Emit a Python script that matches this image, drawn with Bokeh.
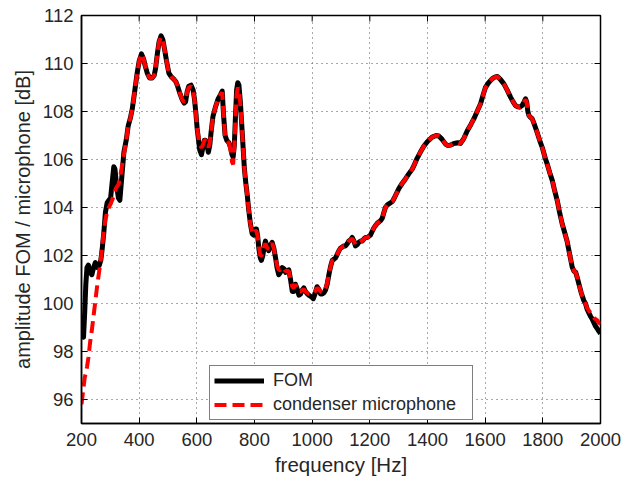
from bokeh.plotting import figure
from bokeh.models import FixedTicker, Legend, LegendItem, Range1d, ColumnDataSource
from bokeh.embed import file_html
from bokeh.resources import INLINE

freq = [200, 204, 207, 211, 215, 219, 224, 230, 236, 242, 248, 255, 262, 267, 272, 277, 283, 289, 295, 301,
        306, 312, 316, 322, 328, 333, 340, 347, 355, 362, 369, 376, 384, 393, 400, 408, 415, 421, 428, 436,
        445, 452, 457, 463, 469, 476, 482, 488, 495, 503, 511, 520, 527, 532, 540, 549, 556, 561, 566, 572,
        580, 587, 592, 597, 601, 606, 610, 616, 621, 626, 630, 635, 640, 645, 650, 656, 665, 673, 682, 688,
        693, 698, 704, 711, 717, 722, 726, 730, 734, 738, 742, 746, 751, 756, 761, 765, 770, 775, 780, 786,
        792, 797, 803, 807, 811, 815, 820, 824, 829, 834, 838, 843, 849, 855, 861, 867, 873, 878, 884, 890,
        896, 902, 908, 913, 919, 925, 931, 936, 942, 948, 954, 960, 965, 971, 977, 983, 988, 994, 1000, 1004,
        1010, 1017, 1023, 1029, 1035, 1041, 1046, 1052, 1058, 1064, 1070, 1076, 1081, 1087, 1093, 1098, 1104, 1110, 1116, 1122,
        1127, 1133, 1139, 1145, 1150, 1156, 1162, 1168, 1174, 1180, 1185, 1191, 1197, 1202, 1208, 1214, 1220, 1226, 1232, 1237,
        1243, 1249, 1254, 1260, 1266, 1272, 1278, 1283, 1289, 1295, 1301, 1312, 1324, 1335, 1347, 1355, 1364, 1375, 1387, 1400,
        1416, 1430, 1439, 1450, 1462, 1470, 1480, 1490, 1497, 1505, 1514, 1525, 1538, 1550, 1561, 1572, 1584, 1593, 1601, 1612,
        1624, 1633, 1642, 1652, 1665, 1676, 1688, 1697, 1705, 1713, 1720, 1728, 1735, 1740, 1744, 1748, 1752, 1758, 1763, 1771,
        1780, 1789, 1798, 1809, 1815, 1824, 1833, 1841, 1850, 1858, 1867, 1876, 1884, 1893, 1902, 1908, 1914, 1920, 1925, 1933,
        1942, 1948, 1954, 1960, 1966, 1971, 1977, 1983, 1989, 1994, 2000]

fom = [99.2, 98.7, 98.6, 99.6, 100.8, 101.5, 101.6, 101.3, 101.2, 101.5, 101.7, 101.5, 101.6, 101.8, 102.3, 102.9, 103.8, 104.2, 104.3, 104.4,
       105.0, 105.7, 105.6, 104.9, 104.4, 104.3, 105.3, 106.3, 106.8, 107.4, 107.7, 108.1, 108.8, 109.6, 110.1, 110.4, 110.2, 109.9, 109.6, 109.4,
       109.4, 109.5, 109.8, 110.4, 110.9, 111.15, 111.0, 110.6, 110.1, 109.6, 109.45, 109.35, 109.25, 109.1, 108.8, 108.5, 108.35, 108.4, 108.8, 109.05,
       109.1, 108.9, 108.5, 107.9, 107.3, 106.8, 106.4, 106.2, 106.5, 106.8, 106.8, 106.6, 106.3, 106.6, 107.2, 107.8, 108.2, 108.5, 108.7, 108.85,
       107.8, 107.0, 106.8, 106.7, 106.5, 106.2, 106.1, 106.6, 107.8, 108.9, 109.2, 109.1, 108.4, 107.4, 106.4, 105.6, 105.0, 104.5, 103.9, 103.3,
       102.9, 102.85, 103.1, 103.1, 102.8, 102.3, 101.9, 101.8, 102.0, 102.4, 102.6, 102.4, 102.2, 102.4, 102.55, 102.3, 101.9, 101.5, 101.2, 101.3,
       101.5, 101.45, 101.3, 101.35, 101.4, 101.0, 100.5, 100.5, 100.8, 100.6, 100.35, 100.4, 100.55, 100.65, 100.5, 100.4, 100.35, 100.3, 100.25, 100.2,
       100.4, 100.7, 100.6, 100.4, 100.4, 100.45, 100.55, 100.8, 101.2, 101.55, 101.8, 101.85, 101.9, 102.05, 102.2, 102.3, 102.35, 102.4, 102.4, 102.5,
       102.6, 102.65, 102.75, 102.6, 102.4, 102.45, 102.55, 102.6, 102.6, 102.7, 102.75, 102.75, 102.8, 102.85, 103.0, 103.15, 103.25, 103.35, 103.4, 103.45,
       103.55, 103.8, 104.0, 104.1, 104.15, 104.2, 104.25, 104.35, 104.5, 104.65, 104.8, 105.0, 105.2, 105.4, 105.6, 105.8, 106.05, 106.3, 106.55, 106.75,
       106.93, 107.0, 106.98, 106.85, 106.65, 106.58, 106.6, 106.66, 106.68, 106.7, 106.67, 106.85, 107.2, 107.45, 107.7, 108.0, 108.32, 108.7, 109.0, 109.2,
       109.36, 109.43, 109.46, 109.35, 109.15, 108.9, 108.6, 108.4, 108.25, 108.2, 108.18, 108.25, 108.4, 108.53, 108.4, 108.0, 107.83, 107.75, 107.7, 107.45,
       107.14, 106.8, 106.5, 106.03, 105.82, 105.45, 105.12, 104.7, 104.29, 103.8, 103.32, 102.95, 102.6, 102.05, 101.51, 101.35, 101.3, 101.05, 100.82, 100.45,
       100.13, 100.0, 99.75, 99.6, 99.45, 99.36, 99.2, 99.05, 98.95, 98.85, 98.75]

condenser = [95.8, 96.2, 96.5, 96.9, 97.1, 97.35, 97.75, 98.4, 98.9, 99.5, 100.1, 100.8, 101.4, 101.85, 102.4, 103.0, 103.5, 103.8, 104.0, 104.15,
             104.3, 104.5, 104.7, 104.85, 104.95, 105.2, 105.7, 106.2, 106.8, 107.4, 107.7, 108.1, 108.8, 109.6, 110.1, 110.4, 110.2, 109.9, 109.6, 109.4,
             109.4, 109.5, 109.8, 110.4, 110.9, 111.1, 111.0, 110.6, 110.1, 109.6, 109.45, 109.35, 109.25, 109.1, 108.8, 108.5, 108.4, 108.45, 108.8, 109.0,
             109.05, 108.9, 108.5, 107.9, 107.3, 106.9, 106.6, 106.5, 106.6, 106.8, 106.8, 106.65, 106.5, 106.7, 107.2, 107.8, 108.2, 108.5, 108.7, 108.8,
             107.8, 107.0, 106.8, 106.7, 106.4, 105.9, 105.8, 106.5, 107.7, 108.7, 109.0, 108.9, 108.3, 107.4, 106.4, 105.6, 105.0, 104.5, 103.9, 103.3,
             102.95, 102.9, 103.05, 103.0, 102.8, 102.4, 102.0, 102.0, 102.1, 102.4, 102.5, 102.35, 102.25, 102.4, 102.5, 102.3, 101.9, 101.6, 101.4, 101.4,
             101.5, 101.45, 101.35, 101.35, 101.35, 101.0, 100.7, 100.65, 100.8, 100.65, 100.5, 100.5, 100.55, 100.6, 100.5, 100.45, 100.4, 100.4, 100.4, 100.4,
             100.5, 100.65, 100.6, 100.5, 100.45, 100.5, 100.6, 100.85, 101.2, 101.55, 101.8, 101.85, 101.9, 102.05, 102.2, 102.3, 102.35, 102.4, 102.4, 102.5,
             102.6, 102.65, 102.7, 102.6, 102.45, 102.5, 102.55, 102.6, 102.6, 102.7, 102.75, 102.75, 102.8, 102.85, 103.0, 103.15, 103.25, 103.35, 103.4, 103.45,
             103.55, 103.8, 104.0, 104.1, 104.15, 104.2, 104.25, 104.35, 104.5, 104.65, 104.8, 105.0, 105.2, 105.4, 105.6, 105.8, 106.05, 106.3, 106.55, 106.75,
             106.93, 107.0, 106.98, 106.85, 106.65, 106.58, 106.6, 106.66, 106.68, 106.7, 106.67, 106.85, 107.2, 107.45, 107.7, 108.0, 108.32, 108.7, 109.0, 109.2,
             109.36, 109.43, 109.46, 109.35, 109.15, 108.9, 108.6, 108.4, 108.25, 108.2, 108.18, 108.25, 108.4, 108.5, 108.4, 108.0, 107.83, 107.75, 107.7, 107.45,
             107.14, 106.8, 106.5, 106.03, 105.82, 105.45, 105.12, 104.7, 104.29, 103.8, 103.32, 102.95, 102.6, 102.05, 101.51, 101.35, 101.3, 101.05, 100.82, 100.45,
             100.13, 100.0, 99.8, 99.7, 99.6, 99.5, 99.4, 99.35, 99.3, 99.2, 99.15]

x_ticks = [200, 400, 600, 800, 1000, 1200, 1400, 1600, 1800, 2000]
y_ticks = [96, 98, 100, 102, 104, 106, 108, 110, 112]
x_label = "frequency [Hz]"
y_label = "amplitude FOM / microphone [dB]"
series_names = ["FOM", "condenser microphone"]

X0, X1, Y0, Y1 = 200, 2000, 95, 112
FONT = "Liberation Sans"
TXT = "#262626"

p = figure(width=630, height=478, output_backend="svg", toolbar_location=None,
           x_range=Range1d(X0, X1), y_range=Range1d(Y0, Y1),
           min_border_left=81, min_border_right=30, min_border_top=15, min_border_bottom=53)
p.background_fill_color = "white"
p.border_fill_color = "white"
p.outline_line_color = "black"
p.outline_line_width = 1.5

for ax in (p.xaxis[0], p.yaxis[0]):
    ax.major_label_text_font = FONT
    ax.major_label_text_font_size = "18.5px"
    ax.major_label_text_color = TXT
    ax.axis_label_text_font = FONT
    ax.axis_label_text_font_style = "normal"
    ax.axis_label_text_color = TXT
    ax.major_tick_in = 6
    ax.major_tick_out = 0
    ax.minor_tick_line_color = None
    ax.axis_line_width = 1.5
    ax.major_tick_line_width = 1

p.xaxis[0].ticker = FixedTicker(ticks=x_ticks)
p.yaxis[0].ticker = FixedTicker(ticks=y_ticks)
p.xaxis[0].axis_label = x_label
p.yaxis[0].axis_label = y_label
p.xaxis[0].axis_label_text_font_size = "20.5px"
p.yaxis[0].axis_label_text_font_size = "20px"
p.xaxis[0].major_label_standoff = 9
p.xaxis[0].axis_label_standoff = 4
p.yaxis[0].major_label_standoff = 8
p.yaxis[0].axis_label_standoff = 6

# inward ticks on the top and right edges of the box (MATLAB style)
tick_len_y = 6 * (Y1 - Y0) / 410.0
tick_len_x = 6 * (X1 - X0) / 519.0
p.segment(x0=x_ticks, y0=[Y1] * len(x_ticks), x1=x_ticks, y1=[Y1 - tick_len_y] * len(x_ticks),
          line_color="black", line_width=1)
p.segment(x0=[X1] * len(y_ticks), y0=y_ticks, x1=[X1 - tick_len_x] * len(y_ticks), y1=y_ticks,
          line_color="black", line_width=1)

p.xgrid.ticker = FixedTicker(ticks=x_ticks)
p.ygrid.ticker = FixedTicker(ticks=y_ticks)
for g in (p.xgrid[0], p.ygrid[0]):
    g.grid_line_color = "#555555"
    g.grid_line_dash = "1 4"
    g.grid_line_width = 1

src = ColumnDataSource(dict(f=freq, fom=fom, cond=condenser))
r1 = p.line("f", "fom", source=src, line_color="black", line_width=5, line_join="round")
r2 = p.line("f", "cond", source=src, line_color="#ff0000", line_width=4, line_dash="12 6")

legend = Legend(items=[LegendItem(label=series_names[0], renderers=[r1]),
                       LegendItem(label=series_names[1], renderers=[r2])],
                location=(128, 3), orientation="vertical",
                label_text_font=FONT, label_text_font_size="18px", label_text_color=TXT,
                glyph_width=50, glyph_height=21, label_height=21, label_width=195, label_standoff=9,
                padding=4, spacing=3, margin=0,
                border_line_color="black", border_line_width=1.5,
                background_fill_color="white", background_fill_alpha=1.0)
p.add_layout(legend, "center")

open("out.html", "w").write(file_html(p, INLINE))
